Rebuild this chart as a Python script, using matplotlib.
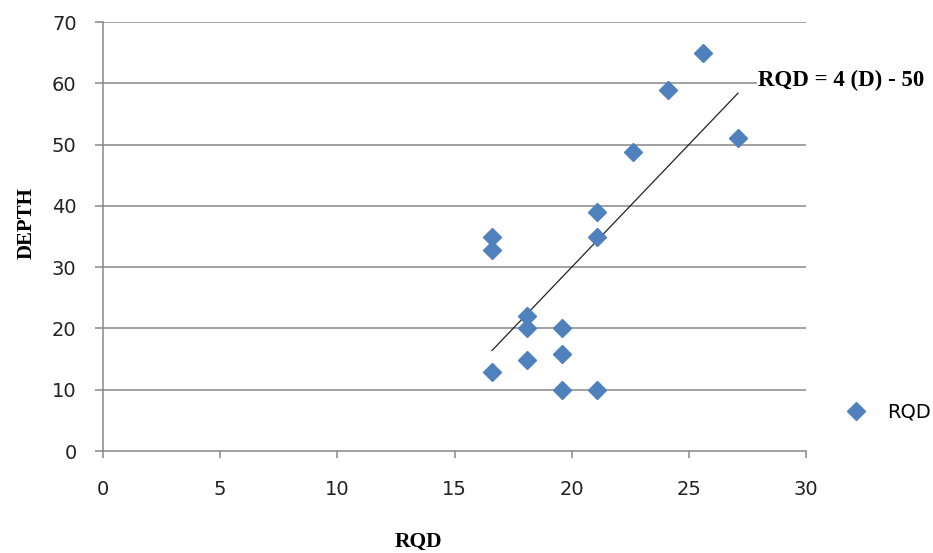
import numpy as np
import matplotlib
matplotlib.use("Agg")
from matplotlib import pyplot as plt

# data
rqd = [25.6, 24.1, 27.1, 22.6, 21.1, 21.1, 16.6, 16.6, 18.1, 18.1, 19.6, 19.6, 18.1, 16.6, 19.6, 21.1]
depth = [65.0, 58.9, 51.0, 48.8, 39.0, 35.0, 35.0, 32.8, 22.0, 20.0, 20.0, 15.8, 14.8, 12.9, 10.0, 10.0]

# trend line from the equation on the chart
slope = 4
intercept = -50
eq_label = "RQD = 4 (D) - 50"

xticks = [0, 5, 10, 15, 20, 25, 30]
yticks = [0, 10, 20, 30, 40, 50, 60, 70]

grey = "#878787"
blue = "#4F81BD"

fig = plt.figure(figsize=(9.33, 5.53), dpi=100)
ax = fig.add_axes([0.1104, 0.1844, 0.7535, 0.7758])

ax.set_xlim(0, 30)
ax.set_ylim(0, 70)
ax.set_xticks(xticks)
ax.set_yticks(yticks)

for y in yticks[1:]:
    ax.axhline(y, color=grey, lw=1.1, zorder=1)

ax.plot(rqd, depth, ls="none", marker="D", ms=9.2, color=blue, mec=blue,
        label="RQD", zorder=3)

xs = np.array([min(rqd), max(rqd)])
ax.plot(xs, slope * xs + intercept, color="#222222", lw=0.9, zorder=2)

for s in ["top", "right"]:
    ax.spines[s].set_visible(False)
for s in ["left", "bottom"]:
    ax.spines[s].set_color(grey)
    ax.spines[s].set_linewidth(1.1)

ax.tick_params(axis="y", length=6, width=1.1, color=grey, pad=13,
               labelsize=14, labelcolor="#222222")
ax.tick_params(axis="x", length=5, width=1.1, color=grey, pad=16,
               labelsize=14, labelcolor="#222222")

ax.set_xlabel("RQD", family="Liberation Serif", fontweight="bold", fontsize=15.5)
ax.set_ylabel("DEPTH", family="Liberation Serif", fontweight="bold", fontsize=15)
# labels are not centred on the axes in the original
ax.xaxis.set_label_coords(0.448, -0.189)
ax.yaxis.set_label_coords(-0.094, 0.531)

fig.text(758 / 933, 1 - 80 / 553, eq_label, family="Liberation Serif",
         fontweight="bold", fontsize=16.5, va="center", ha="left",
         bbox=dict(facecolor="white", edgecolor="none", pad=1))

ax.legend(loc="center left", bbox_to_anchor=(844 / 933, 1 - 412 / 553),
          bbox_transform=fig.transFigure, frameon=False, fontsize=14,
          handlelength=1.2, handletextpad=1.0, borderpad=0, borderaxespad=0,
          numpoints=1)

fig.savefig("out.png", dpi=100)
